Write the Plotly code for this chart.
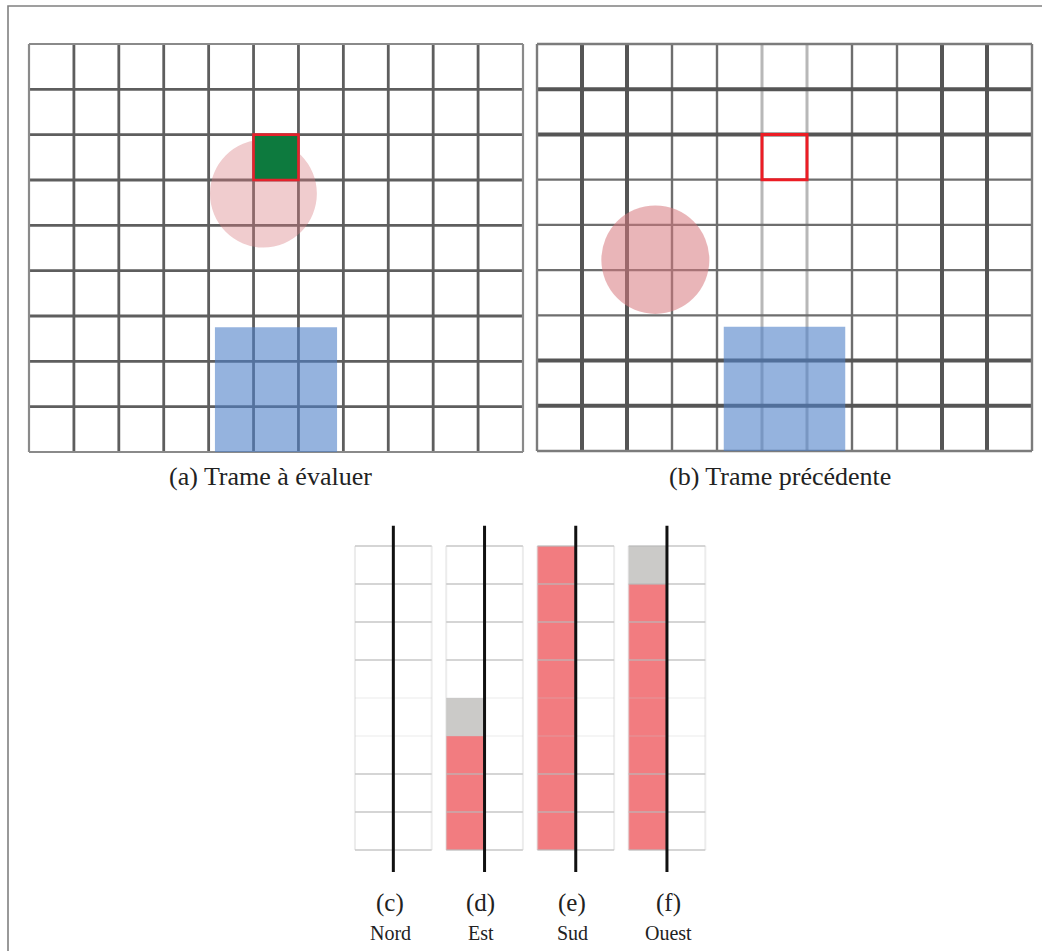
import plotly.graph_objects as go

W, H = 1042, 951

# ---------------- data ----------------
n_cols = 11
n_rows = 9
target_cell = (5, 2)                      # (column, row) of the evaluated block
circle_a = dict(cx=5.22, cy=3.30, r=1.19)  # object position in frame (a), cell units
circle_b = dict(cx=2.63, cy=4.77, r=1.20)  # object position in frame (b)
rect_a = dict(x0=4.14, x1=6.86, y0=6.25, y1=9.0)
rect_b = dict(x0=4.15, x1=6.85, y0=6.25, y1=9.0)
b_thick_cols = [1, 2, 9, 10]
b_light_cols = [5, 6]
b_thick_rows = [1, 2, 7, 8]

captions = ["(a) Trame à évaluer", "(b) Trame précédente"]
panel_letters = ["(c)", "(d)", "(e)", "(f)"]
directions = ["Nord", "Est", "Sud", "Ouest"]
# cell states, top to bottom: 0 = vide, 1 = gris, 2 = rouge
nord_cells = [0, 0, 0, 0, 0, 0, 0, 0]
est_cells = [0, 0, 0, 0, 1, 2, 2, 2]
sud_cells = [2, 2, 2, 2, 2, 2, 2, 2]
ouest_cells = [1, 2, 2, 2, 2, 2, 2, 2]
profile_cells = [nord_cells, est_cells, sud_cells, ouest_cells]
n_prof_rows = 8

# ---------------- figure ----------------
fig = go.Figure()
layout_axes = {}


def add_axes(idx, xp0, xp1, yp0, yp1, nx, ny, padx, pady):
    sx = (xp1 - xp0) / nx
    sy = (yp1 - yp0) / ny
    xn = "xaxis" if idx == 1 else f"xaxis{idx}"
    yn = "yaxis" if idx == 1 else f"yaxis{idx}"
    common = dict(visible=False, showgrid=False, zeroline=False, fixedrange=True)
    layout_axes[xn] = dict(domain=[(xp0 - padx * sx) / W, (xp1 + padx * sx) / W],
                           range=[-padx, nx + padx], anchor=f"y{'' if idx == 1 else idx}", **common)
    layout_axes[yn] = dict(domain=[1 - (yp1 + pady * sy) / H, 1 - (yp0 - pady * sy) / H],
                           range=[ny + pady, -pady], anchor=f"x{'' if idx == 1 else idx}", **common)
    sfx = "" if idx == 1 else str(idx)
    return "x" + sfx, "y" + sfx


def seg_lines(positions, vertical, length):
    xs, ys = [], []
    for p in positions:
        if vertical:
            xs += [p, p, None]
            ys += [0, length, None]
        else:
            xs += [0, length, None]
            ys += [p, p, None]
    return xs, ys


def add_lines(xref, yref, xs, ys, color, width):
    fig.add_trace(go.Scatter(x=xs, y=ys, mode="lines", xaxis=xref, yaxis=yref,
                             line=dict(color=color, width=width),
                             hoverinfo="skip", showlegend=False))


shapes = []

# ---- panel (a)
xa, ya = add_axes(1, 29, 523, 44, 452, n_cols, n_rows, 0.08, 0.08)
inner_c = list(range(1, n_cols))
inner_r = list(range(1, n_rows))
xs, ys = seg_lines(inner_c, True, n_rows)
add_lines(xa, ya, xs, ys, "#5e5e5e", 2.8)
xs, ys = seg_lines(inner_r, False, n_cols)
add_lines(xa, ya, xs, ys, "#5e5e5e", 2.8)
xs, ys = seg_lines([0, n_cols], True, n_rows)
add_lines(xa, ya, xs, ys, "#8a8a8a", 2.2)
xs, ys = seg_lines([0, n_rows], False, n_cols)
add_lines(xa, ya, xs, ys, "#8a8a8a", 2.2)

# ---- panel (b)
xb, yb = add_axes(2, 537, 1032, 44, 451, n_cols, n_rows, 0.08, 0.08)
norm_c = [c for c in inner_c if c not in b_thick_cols + b_light_cols]
norm_r = [r for r in inner_r if r not in b_thick_rows]
xs, ys = seg_lines(norm_c, True, n_rows)
add_lines(xb, yb, xs, ys, "#6e6e6e", 2.4)
xs, ys = seg_lines(b_light_cols, True, n_rows)
add_lines(xb, yb, xs, ys, "#b8b8b8", 3)
xs, ys = seg_lines(norm_r, False, n_cols)
add_lines(xb, yb, xs, ys, "#6e6e6e", 2.4)
xs, ys = seg_lines(b_thick_cols, True, n_rows)
add_lines(xb, yb, xs, ys, "#555555", 4)
xs, ys = seg_lines(b_thick_rows, False, n_cols)
add_lines(xb, yb, xs, ys, "#555555", 4)
xs, ys = seg_lines([0, n_cols], True, n_rows)
add_lines(xb, yb, xs, ys, "#7c7c7c", 2.4)
xs, ys = seg_lines([0, n_rows], False, n_cols)
add_lines(xb, yb, xs, ys, "#7c7c7c", 2.4)

# overlays for (a) and (b)
for (xr, yr, circ, rect, c_op) in [(xa, ya, circle_a, rect_a, 0.38), (xb, yb, circle_b, rect_b, 0.55)]:
    shapes.append(dict(type="circle", xref=xr, yref=yr, layer="above",
                       x0=circ["cx"] - circ["r"], x1=circ["cx"] + circ["r"],
                       y0=circ["cy"] - circ["r"], y1=circ["cy"] + circ["r"],
                       fillcolor="#d7787e", opacity=c_op, line=dict(width=0)))
    shapes.append(dict(type="rect", xref=xr, yref=yr, layer="above",
                       x0=rect["x0"], x1=rect["x1"], y0=rect["y0"], y1=rect["y1"],
                       fillcolor="#4f80c8", opacity=0.6, line=dict(width=0)))

tc, tr = target_cell
shapes.append(dict(type="rect", xref=xa, yref=ya, layer="above",
                   x0=tc, x1=tc + 1, y0=tr, y1=tr + 1,
                   fillcolor="#0d7a3e", line=dict(color="#e4222c", width=2.6)))
shapes.append(dict(type="rect", xref=xb, yref=yb, layer="above",
                   x0=tc, x1=tc + 1, y0=tr, y1=tr + 1,
                   fillcolor="rgba(0,0,0,0)", line=dict(color="#ec1c24", width=3)))

# ---- panels (c)-(f)
bx0 = [355, 446.2, 537.4, 628.6]
bw = 76.7
label_dx = [-0.08, -0.1, -0.09, 0.04]
annotations = []
for i, cells in enumerate(profile_cells):
    xr, yr = add_axes(3 + i, bx0[i], bx0[i] + bw, 546, 850, 2, n_prof_rows, 0.1, 0.65)
    z = [[v, 0] for v in cells]
    fig.add_trace(go.Heatmap(z=z, x=[0.5, 1.5], y=[r + 0.5 for r in range(n_prof_rows)],
                             xaxis=xr, yaxis=yr, zmin=0, zmax=2, showscale=False,
                             colorscale=[[0, "#ffffff"], [0.5, "#cbcac8"], [1, "#f27c80"]],
                             hoverinfo="skip"))
    strong_r = [0, 1, 2, 3, 6, 7, 8]
    xs, ys = seg_lines(strong_r, False, 2)
    add_lines(xr, yr, xs, ys, "rgba(185,185,185,0.6)", 2)
    xs, ys = seg_lines([4, 5], False, 2)
    add_lines(xr, yr, xs, ys, "rgba(200,200,200,0.18)", 2)
    xs, ys = seg_lines([0, 2], True, n_prof_rows)
    add_lines(xr, yr, xs, ys, "rgba(200,200,200,0.35)", 2)
    add_lines(xr, yr, [1, 1], [-0.53, 8.58], "#111111", 3)
    annotations.append(dict(xref=xr, yref="paper", x=1 + label_dx[i], y=1 - 903 / H,
                            text=panel_letters[i], showarrow=False,
                            font=dict(family="Liberation Serif", size=25, color="#222"),
                            xanchor="center", yanchor="middle"))
    annotations.append(dict(xref=xr, yref="paper", x=1 + label_dx[i], y=1 - 933 / H,
                            text=directions[i], showarrow=False,
                            font=dict(family="Liberation Serif", size=20, color="#222"),
                            xanchor="center", yanchor="middle"))

annotations.append(dict(xref="paper", yref="paper", x=270 / W, y=1 - 476 / H, text=captions[0],
                        showarrow=False, xanchor="center", yanchor="middle",
                        font=dict(family="Liberation Serif", size=26, color="#222")))
annotations.append(dict(xref="paper", yref="paper", x=780 / W, y=1 - 476 / H, text=captions[1],
                        showarrow=False, xanchor="center", yanchor="middle",
                        font=dict(family="Liberation Serif", size=26, color="#222")))

# outer frame
shapes.append(dict(type="rect", xref="paper", yref="paper", layer="above",
                   x0=8 / W, x1=1.05, y0=-0.05, y1=1 - 6 / H,
                   line=dict(color="#808080", width=1.6), fillcolor="rgba(0,0,0,0)"))

fig.update_layout(width=W, height=H, margin=dict(l=0, r=0, t=0, b=0),
                  paper_bgcolor="white", plot_bgcolor="white",
                  shapes=shapes, annotations=annotations, showlegend=False,
                  **layout_axes)

fig.write_html("out.html", config={"displayModeBar": False, "staticPlot": True},
               post_script="document.body.style.margin='0';document.body.style.overflow='hidden';")
